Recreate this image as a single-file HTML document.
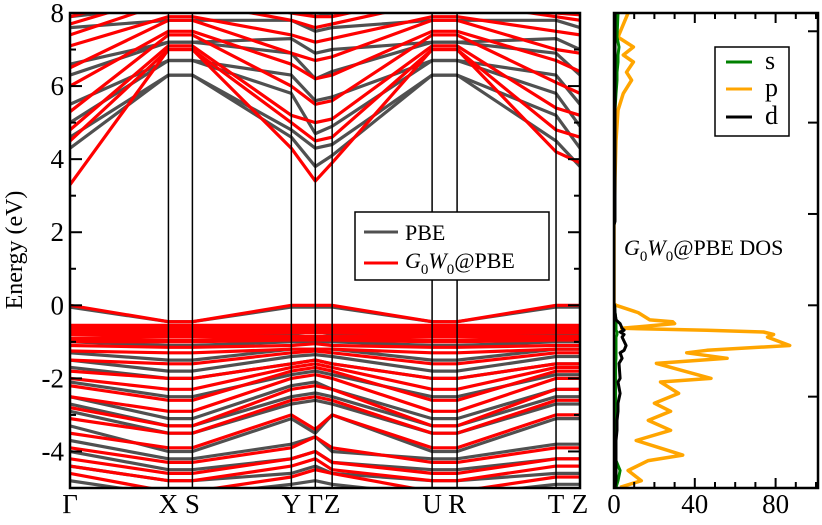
<!DOCTYPE html>
<html><head><meta charset="utf-8"><style>
html,body{margin:0;padding:0;background:#fff;}
svg, svg text{font-family:"Liberation Serif","Times New Roman",serif;}
</style></head><body>
<svg id="chart" width="822" height="520" viewBox="0 0 822 520" xmlns="http://www.w3.org/2000/svg" font-family="Liberation Serif, serif">
<g id="bands-left"></g>
<g id="dos-right"></g>
<g id="frames"></g>
<text x="22" y="250" font-size="24" font-family="Liberation Serif, serif" text-anchor="middle" transform="rotate(-90 22 250)">Energy (eV)</text>
<g>
<rect x="355" y="212" width="194" height="68" fill="#fff" stroke="#000" stroke-width="1.5"/>
<line x1="364" y1="232" x2="398" y2="232" stroke="#505050" stroke-width="3"/>
<text x="405" y="240" font-size="22" font-family="Liberation Serif, serif">PBE</text>
<line x1="364" y1="263" x2="398" y2="263" stroke="#ff0000" stroke-width="3"/>
<text x="405" y="268" font-size="22" font-family="Liberation Serif, serif"><tspan font-style="italic">G</tspan><tspan font-size="15" dy="6">0</tspan><tspan font-style="italic" dy="-6">W</tspan><tspan font-size="15" dy="6">0</tspan><tspan dy="-6">@PBE</tspan></text>
</g>
<g>
<rect x="715" y="47" width="74" height="89" fill="#fff" stroke="#000" stroke-width="1.5"/>
<line x1="726" y1="62" x2="752" y2="62" stroke="#008000" stroke-width="3"/>
<text x="765" y="69" font-size="26" font-family="Liberation Serif, serif">s</text>
<line x1="726" y1="89" x2="752" y2="89" stroke="#ffa500" stroke-width="3"/>
<text x="765" y="96" font-size="26" font-family="Liberation Serif, serif">p</text>
<line x1="726" y1="117" x2="752" y2="117" stroke="#000" stroke-width="3"/>
<text x="765" y="124" font-size="26" font-family="Liberation Serif, serif">d</text>
</g>
<text x="624" y="255" font-size="22" font-family="Liberation Serif, serif"><tspan font-style="italic">G</tspan><tspan font-size="15" dy="6">0</tspan><tspan font-style="italic" dy="-6">W</tspan><tspan font-size="15" dy="6">0</tspan><tspan dy="-6">@PBE DOS</tspan></text>
</svg>
<script>
const NS="http://www.w3.org/2000/svg";
const kLabels=["Γ","X","S","Y","Γ","Z","U","R","T","Z"];
const kPos=[0,0.193,0.240,0.434,0.481,0.514,0.710,0.759,0.953,1.0];
const yTicks=[-4,-2,0,2,4,6,8];
const pbeCond=[
[4.3,6.3,6.3,4.6,3.8,4.1,6.3,6.3,4.5,3.8],
[4.6,6.3,6.3,4.8,4.3,4.4,6.3,6.3,5.2,4.3],
[5.0,6.7,6.7,5.8,4.7,4.9,6.7,6.7,5.8,4.9],
[5.5,6.7,6.7,6.3,5.6,5.7,6.7,6.7,6.3,5.5],
[6.3,7.2,7.2,6.9,6.2,6.4,7.2,7.2,6.9,6.3],
[6.6,7.2,7.2,7.3,6.9,7.0,7.2,7.2,7.3,7.0],
[7.6,7.8,7.8,7.8,7.5,7.6,7.8,7.8,7.8,7.6],
[7.9,8.2,8.2,8.1,7.9,8.0,8.2,8.2,8.1,8.0]];
const gwCond=[
[3.3,7.0,7.0,4.3,3.4,3.9,7.0,7.0,4.2,3.9],
[4.5,7.0,7.0,5.0,4.5,4.6,7.0,7.0,4.8,4.6],
[4.8,7.1,7.1,5.2,5.0,5.1,7.1,7.1,5.4,5.2],
[5.3,7.4,7.4,6.0,5.5,5.6,7.4,7.4,6.1,5.8],
[6.0,7.5,7.5,6.6,6.2,6.3,7.5,7.5,6.7,6.4],
[6.5,7.8,7.8,6.9,6.7,6.8,7.8,7.8,7.0,6.9],
[7.1,7.9,7.9,7.4,7.2,7.3,7.9,7.9,7.5,7.4],
[7.4,8.3,8.3,7.8,7.6,7.7,8.3,8.3,7.9,7.8],
[7.7,8.5,8.5,8.0,7.9,7.9,8.5,8.5,8.0,7.95],
[7.9,8.6,8.6,8.2,8.0,8.1,8.6,8.6,8.2,8.1]];
const pbeVal=[
[-0.05,-0.45,-0.45,-0.05,-0.05,-0.05,-0.45,-0.45,-0.05,-0.05],
[-0.7,-0.75,-0.75,-0.8,-0.9,-0.8,-0.75,-0.75,-0.8,-0.8],
[-1.0,-1.1,-1.1,-1.0,-1.0,-1.0,-1.1,-1.1,-1.0,-1.0],
[-1.3,-1.5,-1.5,-1.2,-1.2,-1.2,-1.5,-1.5,-1.2,-1.2],
[-1.5,-1.8,-1.8,-1.4,-1.35,-1.4,-1.8,-1.8,-1.4,-1.4],
[-1.7,-2.0,-2.0,-1.6,-1.5,-1.6,-2.0,-2.0,-1.6,-1.6],
[-2.1,-2.5,-2.5,-1.9,-1.8,-1.9,-2.5,-2.5,-1.9,-1.9],
[-2.5,-3.1,-3.1,-2.2,-2.1,-2.3,-3.1,-3.1,-2.3,-2.3],
[-2.7,-3.3,-3.3,-2.5,-2.4,-2.5,-3.3,-3.3,-2.5,-2.5],
[-2.9,-3.5,-3.5,-2.7,-2.6,-2.7,-3.5,-3.5,-2.7,-2.7],
[-3.3,-4.0,-4.0,-3.1,-3.5,-3.0,-4.0,-4.0,-3.1,-3.1],
[-3.7,-4.2,-4.2,-3.8,-3.6,-4.0,-4.2,-4.2,-3.8,-3.8],
[-4.0,-4.5,-4.5,-4.2,-4.0,-4.3,-4.5,-4.5,-4.2,-4.2],
[-4.4,-4.8,-4.8,-4.6,-4.4,-4.6,-4.8,-4.8,-4.6,-4.6],
[-4.8,-5.2,-5.2,-4.9,-4.8,-4.9,-5.2,-5.2,-4.9,-4.9]];
const gwVal=[
[0,-0.45,-0.45,0,0,0,-0.45,-0.45,0,0],
[-0.55,-0.55,-0.55,-0.55,-0.55,-0.55,-0.55,-0.55,-0.55,-0.55],
[-0.62,-0.62,-0.62,-0.6,-0.6,-0.6,-0.62,-0.62,-0.6,-0.6],
[-0.7,-0.7,-0.7,-0.65,-0.65,-0.65,-0.7,-0.7,-0.65,-0.65],
[-0.76,-0.78,-0.78,-0.72,-0.72,-0.72,-0.78,-0.78,-0.72,-0.72],
[-0.8,-0.8,-0.8,-0.75,-0.75,-0.75,-0.8,-0.8,-0.75,-0.75],
[-0.9,-0.85,-0.85,-0.85,-0.85,-0.85,-0.85,-0.85,-0.85,-0.85],
[-0.95,-0.95,-0.95,-0.9,-0.9,-0.9,-0.95,-0.95,-0.9,-0.9],
[-1.0,-1.0,-1.0,-0.95,-0.95,-0.95,-1.0,-1.0,-0.95,-0.95],
[-1.1,-1.15,-1.15,-1.1,-1.05,-1.1,-1.15,-1.15,-1.1,-1.1],
[-1.25,-1.3,-1.3,-1.2,-1.2,-1.2,-1.3,-1.3,-1.2,-1.2],
[-1.5,-1.6,-1.6,-1.3,-1.25,-1.3,-1.6,-1.6,-1.3,-1.3],
[-1.8,-2.0,-2.0,-1.6,-1.5,-1.6,-2.0,-2.0,-1.6,-1.6],
[-2.0,-2.3,-2.3,-1.7,-1.6,-1.7,-2.3,-2.3,-1.7,-1.7],
[-2.2,-2.6,-2.6,-1.8,-1.7,-1.8,-2.6,-2.6,-1.8,-1.8],
[-2.5,-2.9,-2.9,-2.0,-1.9,-2.0,-2.9,-2.9,-2.0,-2.0],
[-2.8,-3.3,-3.3,-2.3,-2.2,-2.3,-3.3,-3.3,-2.3,-2.3],
[-3.1,-3.5,-3.5,-2.6,-2.5,-2.6,-3.5,-3.5,-2.6,-2.6],
[-3.5,-3.9,-3.9,-3.0,-3.4,-3.0,-3.9,-3.9,-3.0,-3.0],
[-3.9,-4.3,-4.3,-3.9,-3.6,-3.9,-4.3,-4.3,-3.9,-3.9],
[-4.2,-4.6,-4.6,-4.2,-4.0,-4.3,-4.6,-4.6,-4.2,-4.2],
[-4.4,-4.8,-4.8,-4.4,-4.2,-4.5,-4.8,-4.8,-4.4,-4.4],
[-4.6,-5.1,-5.1,-4.7,-4.5,-4.6,-5.1,-5.1,-4.7,-4.7]];
const dosE=[8,7.34,7.07,6.85,6.66,6.38,6.16,5.8,5.34,4.5,3.5,2.3,2.2,0.05,0,-0.2,-0.4,-0.45,-0.5,-0.63,-0.68,-0.73,-0.8,-0.87,-1.1,-1.23,-1.3,-1.45,-1.59,-2.0,-2.1,-2.41,-2.68,-2.9,-3.15,-3.42,-3.7,-3.89,-4.1,-4.25,-4.52,-4.8,-4.98];
const dosP=[7,2,9.6,4.6,9.6,6.2,8.7,4.6,2,1,0.5,0.2,0,0,1,12,17.7,29,30,3.8,46,74,79,76,87,46,36,56,21,48,23,32,20,28,17,28,11,22,34,17,7,13.5,3];
const dosS=[2,1.5,2.5,2,2,1.5,1.5,1,0.5,0.3,0.2,0.1,0,0,0.3,0.5,1,1,1,1,1,1.5,1.5,1,1,1,1,1,0.8,0.8,0.8,0.8,0.8,0.8,0.8,0.8,0.8,0.8,1,1,3,2,1];
const dosD=[0.5,0.5,0.5,0.5,0.5,0.5,0.5,0.5,0.5,0.5,0.5,0.5,0,0,0.3,0.5,1,2,3,4,5,3,5,4,6,5,3,4,2.5,3,2,3,2,2,1.5,1.5,1,1,1,1,1,1,0.5];
const dosTicks=[0,40,80];

const L=70,R=580,T=13,B=488,E0=-5,E1=8;
const DL=614,DR=818,DMAX=(DR-DL)/2.02;
const ey=e=>T+(E1-e)*(B-T)/(E1-E0);
const kx=k=>L+k*(R-L);
const dx=v=>DL+v*2.02;
const FF="Liberation Serif, serif";

function el(tag,attrs,parent){const e=document.createElementNS(NS,tag);for(const a in attrs)e.setAttribute(a,attrs[a]);parent.appendChild(e);return e;}
const left=document.getElementById('bands-left');
const right=document.getElementById('dos-right');
const frames=document.getElementById('frames');

const clip=el('clipPath',{id:'cl'},el('defs',{},left));
el('rect',{x:L,y:T,width:R-L,height:B-T},clip);
const clip2=el('clipPath',{id:'cr'},el('defs',{},right));
el('rect',{x:DL,y:T,width:DR-DL,height:B-T},clip2);

const gBands=el('g',{'clip-path':'url(#cl)'},left);
function drawBand(vals,color,name){
  const pts=vals.map((v,i)=>kx(kPos[i]).toFixed(1)+','+ey(v).toFixed(1)).join(' ');
  const p=el('polyline',{points:pts,fill:'none',stroke:color,'stroke-width':3.2,'stroke-linejoin':'round'},gBands);
  
  
}
pbeCond.forEach(b=>drawBand(b,'#505050','pbe-conduction-band'));
pbeVal.forEach(b=>drawBand(b,'#505050','pbe-valence-band'));
gwCond.forEach(b=>drawBand(b,'#ff0000','gw-conduction-band'));
gwVal.forEach(b=>drawBand(b,'#ff0000','gw-valence-band'));

kPos.forEach((k,i)=>{
  if(i>0&&i<kPos.length-1){
    const l=el('line',{x1:kx(k),y1:T,x2:kx(k),y2:B,stroke:'#000','stroke-width':1.5},left);
    
    
  }
  const t=el('text',{x:kx(k),y:513,'font-size':27,'text-anchor':'middle','font-family':FF},left);
  t.textContent=kLabels[i];
  
  
});
for(let e=-5;e<=8;e++){
  const major=e%2===0;const len=major?12:6;
  el('line',{x1:L,y1:ey(e),x2:L+len,y2:ey(e),stroke:'#000','stroke-width':2},frames);
  el('line',{x1:R,y1:ey(e),x2:R-len,y2:ey(e),stroke:'#000','stroke-width':2},frames);
}
yTicks.forEach(v=>{
  const t=el('text',{x:L-6,y:ey(v)+9,'font-size':27,'text-anchor':'end','font-family':FF},left);
  t.textContent=v;
  
  
});
el('rect',{x:L,y:T,width:R-L,height:B-T,fill:'none',stroke:'#000','stroke-width':2.5},frames);

const gD=el('g',{'clip-path':'url(#cr)'},right);
function drawDos(vals,color,w,name){
  const pts=vals.map((v,i)=>dx(v).toFixed(1)+','+ey(dosE[i]).toFixed(1)).join(' ');
  const p=el('polyline',{points:pts,fill:'none',stroke:color,'stroke-width':w,'stroke-linejoin':'round'},gD);
  
  
}
drawDos(dosP,'#ffa500',3.5,'dos-p-curve');
drawDos(dosS,'#008000',3,'dos-s-curve');
drawDos(dosD,'#000',3,'dos-d-curve');
for(let v=0;v<=DMAX;v+=10){
  const len=v%40===0?10:6;
  el('line',{x1:dx(v),y1:T,x2:dx(v),y2:T+len,stroke:'#000','stroke-width':2},frames);
  el('line',{x1:dx(v),y1:B,x2:dx(v),y2:B-len,stroke:'#000','stroke-width':2},frames);
}
[-2.5,0,2.5,5,7.5].forEach(e=>{
  el('line',{x1:DR,y1:ey(e),x2:DR-10,y2:ey(e),stroke:'#000','stroke-width':2},frames);
});
dosTicks.forEach(v=>{
  const t=el('text',{x:dx(v),y:513,'font-size':27,'text-anchor':'middle','font-family':FF},right);
  t.textContent=v;
  
  
});
el('rect',{x:DL,y:T,width:DR-DL,height:B-T,fill:'none',stroke:'#000','stroke-width':2.5},frames);
</script>
</body></html>
